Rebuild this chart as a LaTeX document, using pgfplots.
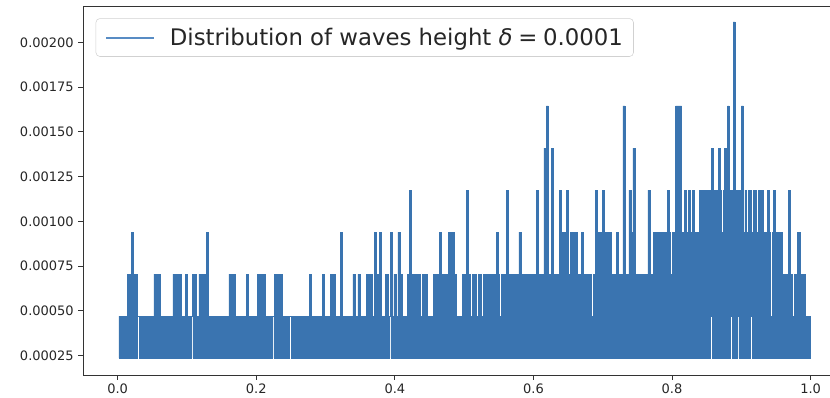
\documentclass[border=0pt]{standalone}
\usepackage{fontspec}
\setmainfont{DejaVu Sans}
\usepackage{pgfplots}
\pgfplotsset{compat=1.18}
\usepackage{pgfplotstable}
\usepgfplotslibrary{fillbetween}
\definecolor{mplblue}{RGB}{58,116,176}
\definecolor{legblue}{RGB}{88,140,196}

% upper envelope of the densely oscillating wave-height line (step values)
\pgfplotstableread{
x y
0.0019 0.00047
0.01443 0.000705
0.02020 0.00094
0.02309 0.000705
0.02886 0.00047
0.05238 0.000705
0.06104 0.00047
0.07980 0.000705
0.08268 0.00047
0.08470 0.000705
0.08759 0.00047
0.08947 0.000705
0.09235 0.00047
0.09812 0.000705
0.10101 0.00047
0.10779 0.000705
0.11039 0.00047
0.11155 0.000705
0.11400 0.00047
0.11732 0.000705
0.12799 0.00094
0.13088 0.00047
0.16061 0.000705
0.16926 0.00047
0.18571 0.000705
0.18860 0.00047
0.20159 0.000705
0.20375 0.00047
0.20491 0.000705
0.20707 0.00047
0.20880 0.000705
0.21356 0.00047
0.22655 0.000705
0.23766 0.00047
0.27706 0.000705
0.27994 0.00047
0.29538 0.000705
0.29827 0.00047
0.30693 0.000705
0.30938 0.00047
0.31082 0.000705
0.31356 0.00047
0.32179 0.00094
0.32468 0.00047
0.33954 0.000705
0.34242 0.00047
0.34675 0.000705
0.34964 0.00047
0.35931 0.000705
0.36797 0.00047
0.37085 0.00094
0.37374 0.000705
0.37807 0.00094
0.38095 0.00047
0.38600 0.000705
0.39033 0.00047
0.39394 0.00094
0.39683 0.00047
0.39870 0.000705
0.40159 0.00047
0.40447 0.00094
0.40736 0.00047
0.40909 0.000705
0.41126 0.00047
0.41804 0.000705
0.42136 0.001175
0.42424 0.000705
0.43218 0.00047
0.43434 0.000705
0.43723 0.00047
0.43939 0.000705
0.44228 0.00047
0.44444 0.000705
0.44733 0.00047
0.45556 0.000705
0.46465 0.00094
0.46753 0.000705
0.46825 0.00047
0.47042 0.000705
0.47720 0.00094
0.48528 0.000705
0.48918 0.00047
0.49784 0.000705
0.50317 0.001175
0.50606 0.000705
0.50938 0.00047
0.51154 0.000705
0.51804 0.00047
0.52020 0.000705
0.52525 0.00047
0.52742 0.000705
0.54646 0.00094
0.54935 0.000705
0.55123 0.00047
0.55339 0.000705
0.56090 0.001175
0.56378 0.000705
0.57908 0.00094
0.58196 0.000705
0.60418 0.001175
0.60707 0.000705
0.61515 0.00141
0.61861 0.001645
0.62150 0.000705
0.62583 0.00141
0.62872 0.000705
0.63781 0.001175
0.64069 0.00094
0.64747 0.001175
0.65007 0.00047
0.65224 0.000705
0.65368 0.00094
0.66335 0.000705
0.66955 0.00094
0.67201 0.000705
0.68398 0.00047
0.68615 0.000705
0.68975 0.001175
0.69264 0.00094
0.69942 0.001175
0.70231 0.00094
0.71212 0.00047
0.71429 0.000705
0.72006 0.00094
0.72294 0.000705
0.72915 0.001645
0.73203 0.000705
0.73377 0.00047
0.73593 0.000705
0.73781 0.001175
0.74069 0.00094
0.74358 0.00141
0.74646 0.000705
0.76522 0.001175
0.76811 0.00047
0.77027 0.000705
0.77302 0.00094
0.79322 0.001175
0.79610 0.00094
0.79798 0.000705
0.80014 0.00094
0.80519 0.001645
0.81385 0.00094
0.81818 0.001175
0.82107 0.00094
0.82323 0.001175
0.82612 0.00094
0.82900 0.001175
0.83189 0.00094
0.83766 0.000705
0.83983 0.001175
0.85671 0.00141
0.85960 0.001175
0.86219 0.00094
0.86436 0.001175
0.86652 0.00141
0.86941 0.001175
0.87157 0.00094
0.87374 0.001175
0.87590 0.00141
0.88023 0.001645
0.88240 0.001175
0.88384 0.00094
0.88600 0.001175
0.88817 0.002115
0.89105 0.001175
0.90014 0.001645
0.90303 0.00094
0.90519 0.001175
0.90765 0.00094
0.90981 0.001175
0.91486 0.00094
0.91703 0.001175
0.92208 0.00094
0.92424 0.001175
0.92684 0.00094
0.92900 0.001175
0.93146 0.00094
0.93723 0.001175
0.94012 0.00094
0.94228 0.00047
0.94444 0.00094
0.94589 0.001175
0.94877 0.00094
0.95916 0.000705
0.96825 0.001175
0.97114 0.000705
0.97403 0.00047
0.97619 0.000705
0.98081 0.00094
0.98557 0.000705
0.99278 0.00047
1.0 0.000235
}\Utab

% lower envelope of the same line (step values)
\pgfplotstableread{
x y
0.0019 0.000235
0.02886 0.00047
0.03102 0.000235
0.07821 0.00047
0.08009 0.000235
0.10649 0.00047
0.10851 0.000235
0.13203 0.00047
0.13348 0.000235
0.17821 0.00047
0.17965 0.000235
0.19264 0.00047
0.19380 0.000235
0.22367 0.00047
0.22540 0.000235
0.22727 0.00047
0.22915 0.000235
0.24820 0.00047
0.25065 0.000235
0.39177 0.00047
0.39423 0.000235
0.83304 0.00047
0.83521 0.000235
0.85498 0.00047
0.85786 0.000235
0.88456 0.00047
0.88672 0.000235
0.89437 0.00047
0.89654 0.000235
0.91342 0.00047
0.91558 0.000235
1.0 0.000235
}\Ltab

\begin{document}
\begin{tikzpicture}
\begin{axis}[
  scale only axis, width=571.7pt, height=276.75pt,
  xmin=-0.05, xmax=1.05, ymin=0.000141, ymax=0.002204,
  xtick={0,0.2,0.4,0.6,0.8,1.0},
  ytick={0.00025,0.0005,0.00075,0.001,0.00125,0.0015,0.00175,0.002},
  scaled x ticks=false, scaled y ticks=false,
  xticklabel style={/pgf/number format/.cd, fixed, fixed zerofill, precision=1},
  yticklabel style={/pgf/number format/.cd, fixed, fixed zerofill, precision=5},
  /pgf/number format/assume math mode=true,
  tick align=outside, tick pos=left,
  major tick length=3.4pt,
  tick style={black!80, line width=0.65pt},
  axis line style={black!80, line width=0.65pt},
  ticklabel style={font=\fontsize{9.75}{11}\selectfont, text=black!85},
  axis on top,
  legend style={at={(0,1)}, anchor=north west, xshift=9.5pt, yshift=-9.2pt,
    draw=black!18, rounded corners=3pt, fill=white,
    font=\fontsize{17.1}{20}\selectfont, inner xsep=7pt, inner ysep=6pt,
    column sep=10pt, nodes={inner sep=1pt}},
  legend cell align=left,
]
\coordinate (SW) at (rel axis cs:0,0);
\addplot[name path=U, const plot, draw=none, forget plot] table[x=x, y=y] {\Utab};
\addplot[name path=L, const plot, draw=none, forget plot] table[x=x, y=y] {\Ltab};
\addplot[fill=mplblue, draw=mplblue, line width=0.35pt, forget plot] fill between[of=U and L];
\addlegendimage{legend image code/.code={\draw[color=legblue, line width=1.5pt] (0pt,0pt) -- (36pt,0pt);}}
\addlegendentry{\color{black!85}Distribution of waves height {\itshape δ}\hspace{0.25em}=\hspace{0.25em}0.0001}
\end{axis}
\pgfresetboundingbox
\path ([shift={(-62.25pt,-17.25pt)}]SW) rectangle ([shift={(560.25pt,281.25pt)}]SW);
\end{tikzpicture}
\end{document}
